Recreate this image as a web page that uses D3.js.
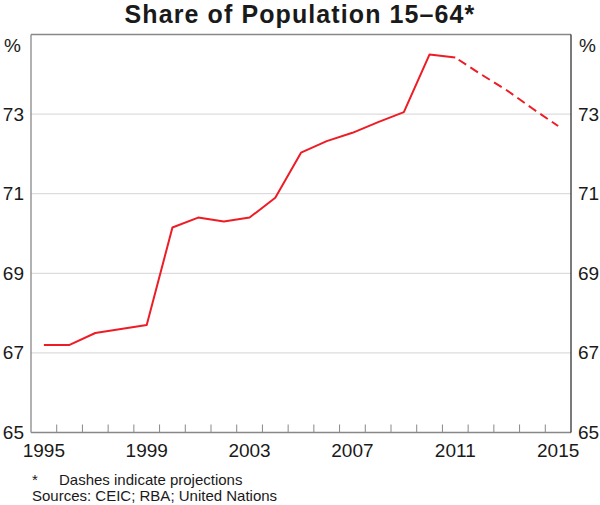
<!DOCTYPE html>
<html>
<head>
<meta charset="utf-8">
<script src="https://cdn.jsdelivr.net/npm/d3@7"></script>
<style>
  body { margin: 0; background: #fff; }
  text { font-family: "Liberation Sans", Arial, sans-serif; fill: #1a1a1a; }
</style>
</head>
<body>
<svg id="chart"></svg>
<script>
// years on the category axis
const years = d3.range(1995, 2016);
// actual share, 1995-2011
const actualYears = [1995, 1996, 1997, 1998, 1999, 2000, 2001, 2002, 2003, 2004, 2005, 2006, 2007, 2008, 2009, 2010, 2011];
const actualValues = [67.2, 67.2, 67.5, 67.6, 67.7, 70.15, 70.4, 70.3, 70.4, 70.9, 72.03, 72.32, 72.53, 72.8, 73.05, 74.5, 74.42];
// UN projections
const projYears = [2011, 2012, 2013, 2014, 2015];
const projValues = [74.42, 74.0, 73.6, 73.14, 72.7];
const yTicks = [65, 67, 69, 71, 73];
const xLabels = [1995, 1999, 2003, 2007, 2011, 2015];

const W = 600, H = 505;
const margin = {top: 34.5, right: 29, bottom: 72.5, left: 31};
const width = W - margin.left - margin.right;
const height = H - margin.top - margin.bottom;
const red = "#ee1c25";

const svg = d3.select("#chart").attr("width", W).attr("height", H);

svg.append("text")
    .attr("x", W / 2).attr("y", 23)
    .attr("text-anchor", "middle")
    .style("font-size", "25px").style("font-weight", "bold")
    .style("letter-spacing", "1.1px")
    .text("Share of Population 15–64*");

const g = svg.append("g").attr("transform", `translate(${margin.left},${margin.top})`);

const x = d3.scaleBand().domain(years).range([0, width]);
const y = d3.scaleLinear().domain([65, 75]).range([height, 0]);

// gridlines
g.selectAll(".grid")
    .data(yTicks.filter(d => d > 65))
    .join("line")
    .attr("x1", 0).attr("x2", width)
    .attr("y1", d => y(d)).attr("y2", d => y(d))
    .attr("stroke", "#d4d4d4").attr("stroke-width", 1);

// left and right value labels
const yLeft = d3.axisLeft(y).tickValues(yTicks).tickSize(0).tickPadding(7);
const yRight = d3.axisRight(y).tickValues(yTicks).tickSize(0).tickPadding(7);
g.append("g").call(yLeft).call(a => a.select(".domain").remove())
    .selectAll("text").style("font-size", "19px").attr("fill", "#1a1a1a");
g.append("g").attr("transform", `translate(${width},0)`).call(yRight)
    .call(a => a.select(".domain").remove())
    .selectAll("text").style("font-size", "19px").attr("fill", "#1a1a1a");

g.append("text").attr("x", -10).attr("y", 17).attr("text-anchor", "end")
    .style("font-size", "19px").text("%");
g.append("text").attr("x", width + 8).attr("y", 17).attr("text-anchor", "start")
    .style("font-size", "19px").text("%");

// x axis: ticks on band edges, labels in band centres
const tickYears = years.slice(1);
g.selectAll(".xtick")
    .data(tickYears)
    .join("line")
    .attr("x1", d => x(d)).attr("x2", d => x(d))
    .attr("y1", height).attr("y2", height - 8)
    .attr("stroke", "#888").attr("stroke-width", 1);

g.selectAll(".xlab")
    .data(xLabels)
    .join("text")
    .attr("x", d => x(d) + x.bandwidth() / 2)
    .attr("y", height + 24.5)
    .attr("text-anchor", "middle")
    .style("font-size", "19px")
    .text(d => d);

// frame
g.append("line").attr("x1", 0).attr("x2", width).attr("y1", 0).attr("y2", 0).attr("stroke", "#888").attr("stroke-width", 1.3);
g.append("line").attr("x1", 0).attr("x2", 0).attr("y1", 0).attr("y2", height).attr("stroke", "#888").attr("stroke-width", 1.3);
g.append("line").attr("x1", 0).attr("x2", width).attr("y1", height).attr("y2", height).attr("stroke", "#888").attr("stroke-width", 1.3);
g.append("line").attr("x1", width).attr("x2", width).attr("y1", 0).attr("y2", height).attr("stroke", "#222").attr("stroke-width", 1.2);

const line = d3.line()
    .x(d => x(d[0]) + x.bandwidth() / 2)
    .y(d => y(d[1]));

g.append("path")
    .datum(d3.zip(actualYears, actualValues))
    .attr("d", line)
    .attr("fill", "none").attr("stroke", red).attr("stroke-width", 2)
    .attr("stroke-linejoin", "round");

g.append("path")
    .datum(d3.zip(projYears, projValues))
    .attr("d", line)
    .attr("fill", "none").attr("stroke", red).attr("stroke-width", 2)
    .attr("stroke-dasharray", "9,5").attr("stroke-dashoffset", -4);

// footnotes
svg.append("text").attr("x", 32).attr("y", 485).style("font-size", "15px").text("*");
svg.append("text").attr("x", 59).attr("y", 485).style("font-size", "15px").text("Dashes indicate projections");
svg.append("text").attr("x", 32).attr("y", 501).style("font-size", "15px").text("Sources: CEIC; RBA; United Nations");
</script>
</body>
</html>
